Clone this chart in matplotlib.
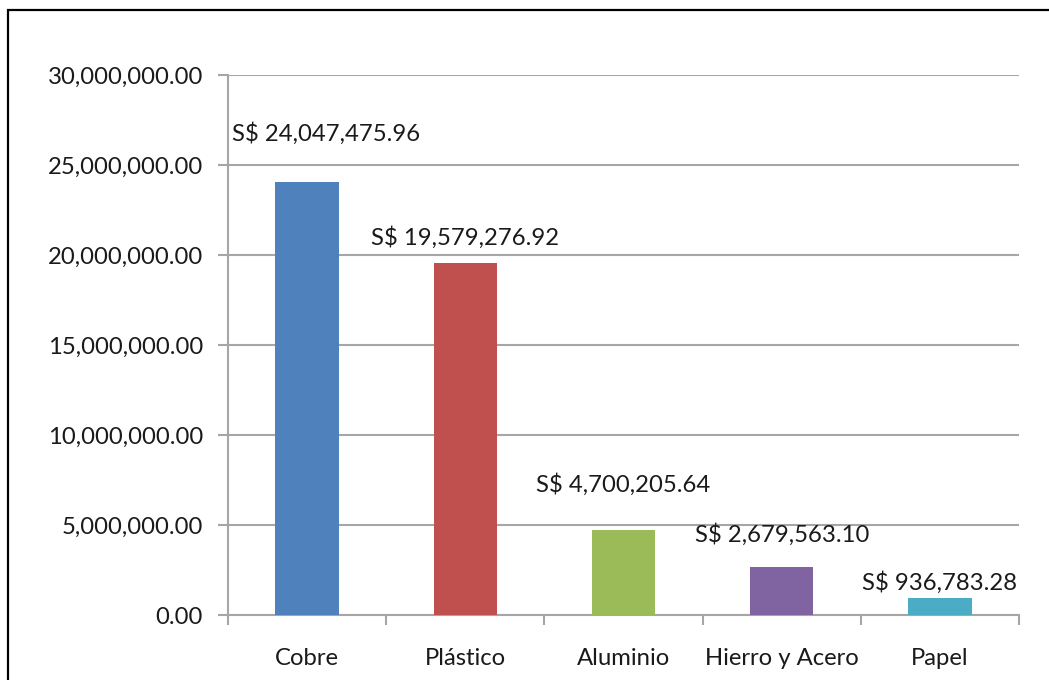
import matplotlib.pyplot as plt
from matplotlib.patches import Rectangle
from matplotlib.ticker import FuncFormatter

materials = ["Cobre", "Plástico", "Aluminio", "Hierro y Acero", "Papel"]
amounts = [24047475.96, 19579276.92, 4700205.64, 2679563.10, 936783.28]
colors = ["#4F81BD", "#C0504D", "#9BBB59", "#8064A2", "#4BACC6"]
yticks = [0, 5e6, 10e6, 15e6, 20e6, 25e6, 30e6]

# label offsets in pixels (hand placed in the original)
label_dx = [19, 0, 0, 0, 0]
label_dy = [49, 25, 46, 32, 16]

plt.rcParams['font.family'] = ['Lato', 'DejaVu Sans']
txt = "#1a1a1a"
grid_c = "#A6A6A6"
fs = 17.2

fig = plt.figure(figsize=(10.49, 6.80), dpi=100)
fig.patch.set_facecolor("white")
# outer frame, cut by the image edge on right and bottom
fig.patches.append(Rectangle((8 / 1049, -0.05), 1.1, (670 / 680) + 0.05,
                             transform=fig.transFigure, fill=False,
                             edgecolor="black", linewidth=1.6))

ax = fig.add_axes([228 / 1049, 65 / 680, (1019 - 228) / 1049, (615 - 75) / 680])
x = range(len(materials))
ax.bar(x, amounts, width=0.4, color=colors, zorder=3)

ax.set_xlim(-0.5, len(materials) - 0.5)
ax.set_ylim(0, 30e6)
ax.set_yticks(yticks)
ax.yaxis.set_major_formatter(FuncFormatter(lambda v, p: f"{v:,.2f}"))
ax.set_xticks(list(x))
ax.set_xticklabels(materials)
ax.set_xticks([i - 0.5 for i in range(len(materials) + 1)], minor=True)

ax.grid(axis="y", color=grid_c, linewidth=1.5, zorder=0)
for s in ["top", "right"]:
    ax.spines[s].set_visible(False)
for s in ["left", "bottom"]:
    ax.spines[s].set_color(grid_c)
    ax.spines[s].set_linewidth(1.5)

ax.tick_params(axis="y", length=7, width=1.5, color=grid_c, labelsize=fs,
               labelcolor=txt, pad=11)
ax.tick_params(axis="x", which="major", length=0, labelsize=fs,
               labelcolor=txt, pad=23.5)
ax.tick_params(axis="x", which="minor", length=7, width=1.5, color=grid_c)

for i, v in enumerate(amounts):
    ax.annotate(f"S$ {v:,.2f}", (i, v), xytext=(label_dx[i], label_dy[i]),
                textcoords="offset pixels", ha="center", va="center",
                fontsize=fs, color=txt)

fig.savefig("out.png", dpi=100)
